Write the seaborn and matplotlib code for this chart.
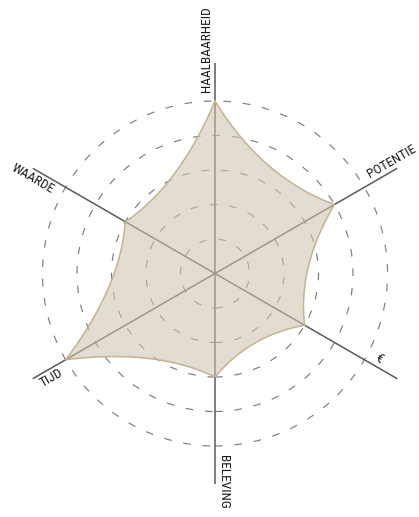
import numpy as np
import pandas as pd
import matplotlib.pyplot as plt
import seaborn as sns
from matplotlib.patches import Circle

# Chart data
labels = ['HAALBAARHEID', 'POTENTIE', '€', 'BELEVING', 'TIJD', 'WAARDE']
scores = [5, 4, 3, 3, 5, 3]
rings = [1, 2, 3, 4, 5]

# Style
sns.set_theme(style='white')
plt.rcParams['font.family'] = ['Roboto Condensed', 'Liberation Sans Narrow', 'DejaVu Sans']
FILL_COLOR = '#cfc3b0'
EDGE_COLOR = '#c4b393'
AXIS_COLOR = '#5a5a5a'
RING_COLOR = '#7e7e7e'

PX = 34.5          # pixels per score unit
W, H = 419, 517
CX, CY = 215, 273.5
AXIS_LEN = 6.1
LABEL_R = 5.26
BEND = 0.79        # pull of edge curves toward the centre

fig = plt.figure(figsize=(W / 100, H / 100), dpi=100)
ax = fig.add_axes([0, 0, 1, 1])
ax.set_xlim(-CX / PX, (W - CX) / PX)
ax.set_ylim(-(H - CY) / PX, CY / PX)
ax.set_aspect('equal')

angles = np.deg2rad(90 - 60 * np.arange(len(labels)))
vx = np.array(scores) * np.cos(angles)
vy = np.array(scores) * np.sin(angles)

# concave edges: quadratic bezier with control point pulled toward centre
t = np.linspace(0, 1, 60)[:, None]
pts = []
n = len(labels)
for i in range(n):
    p0 = np.array([vx[i], vy[i]])
    p1 = np.array([vx[(i + 1) % n], vy[(i + 1) % n]])
    c = BEND * (p0 + p1) / 2
    seg = (1 - t) ** 2 * p0 + 2 * (1 - t) * t * c + t ** 2 * p1
    pts.append(seg)
shape = pd.DataFrame(np.vstack(pts), columns=['x', 'y'])

# rings
for r in rings:
    ax.add_patch(Circle((0, 0), r, fill=False, ec=RING_COLOR, lw=0.85,
                        ls=(0, (6.5, 10)), zorder=1))

# axis spokes
for a in angles:
    ax.plot([0, AXIS_LEN * np.cos(a)], [0, AXIS_LEN * np.sin(a)],
            color=AXIS_COLOR, lw=1.1, zorder=2, solid_capstyle='butt')

ax.fill(shape['x'], shape['y'], color=FILL_COLOR, alpha=0.58, lw=0, zorder=3)
sns.lineplot(data=shape, x='x', y='y', sort=False, estimator=None,
             color=EDGE_COLOR, lw=1.1, ax=ax, zorder=4)
ax.plot([shape['x'].iloc[-1], shape['x'].iloc[0]],
        [shape['y'].iloc[-1], shape['y'].iloc[0]], color=EDGE_COLOR, lw=1.1, zorder=4)
ax.set_axis_off()

# labels along spokes, offset to the counter-clockwise side
off = 2.0 / PX
for lab, a in zip(labels, angles):
    deg = np.rad2deg(a)
    px = LABEL_R * np.cos(a) + off * np.cos(a + np.pi / 2)
    py = LABEL_R * np.sin(a) + off * np.sin(a + np.pi / 2)
    if np.cos(a) >= -1e-6:
        ax.text(px, py, lab, rotation=deg, rotation_mode='anchor',
                ha='left', va='bottom', fontsize=9.6, color='#1a1a1a')
    else:
        ax.text(px, py, lab, rotation=deg - 180, rotation_mode='anchor',
                ha='right', va='top', fontsize=9.6, color='#1a1a1a')

fig.savefig('out.png', dpi=100, facecolor='white')
